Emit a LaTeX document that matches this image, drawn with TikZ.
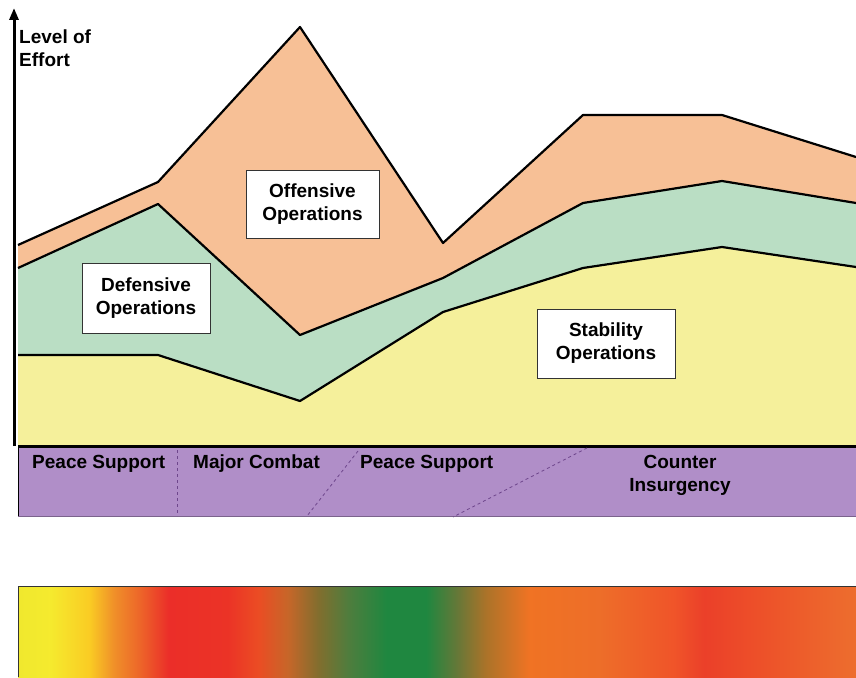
\documentclass[tikz,border=0pt]{standalone}
\usepackage{fontspec}
\setmainfont{Liberation Sans}
\usetikzlibrary{arrows.meta}
\definecolor{offc}{RGB}{247,192,150}
\definecolor{defc}{RGB}{186,222,196}
\definecolor{stac}{RGB}{245,240,155}
\definecolor{purc}{RGB}{176,142,200}
\definecolor{dashc}{RGB}{110,70,140}
\pgfdeclarehorizontalshading{effortbar}{100bp}{
 rgb(0bp)=(0.94,0.91,0.18);
 rgb(25bp)=(0.94,0.91,0.18);
 rgb(26.9bp)=(0.96,0.92,0.18);
 rgb(29.25bp)=(0.98,0.80,0.14);
 rgb(30.75bp)=(0.94,0.56,0.16);
 rgb(32.25bp)=(0.93,0.40,0.16);
 rgb(34bp)=(0.92,0.18,0.16);
 rgb(37.5bp)=(0.92,0.20,0.15);
 rgb(39.35bp)=(0.92,0.30,0.14);
 rgb(41.1bp)=(0.78,0.40,0.16);
 rgb(42.9bp)=(0.51,0.43,0.18);
 rgb(44.7bp)=(0.31,0.49,0.24);
 rgb(47bp)=(0.12,0.53,0.25);
 rgb(49.35bp)=(0.12,0.53,0.25);
 rgb(51.15bp)=(0.39,0.47,0.22);
 rgb(52.9bp)=(0.67,0.45,0.16);
 rgb(55.5bp)=(0.94,0.45,0.14);
 rgb(59.7bp)=(0.93,0.43,0.16);
 rgb(64.15bp)=(0.94,0.33,0.16);
 rgb(65.95bp)=(0.92,0.25,0.16);
 rgb(69bp)=(0.93,0.31,0.16);
 rgb(75bp)=(0.93,0.43,0.18);
 rgb(100bp)=(0.93,0.43,0.18)}
\tikzset{
 layer/.style={draw=black,line width=2.2pt,line join=round},
 label box/.style={draw=black!80,fill=white,line width=0.8pt,inner sep=0pt,align=center,font=\bfseries\fontsize{19}{23}\selectfont},
 phase/.style={font=\bfseries\fontsize{19}{23}\selectfont,inner sep=0pt,align=center},
 phase sep/.style={draw=dashc,dashed,line width=0.8pt}
}
\begin{document}
\begin{tikzpicture}[x=1pt,y=-1pt]
\useasboundingbox (0,0) rectangle (856,677);
\fill[white] (0,0) rectangle (856,677);
% layers
\fill[offc] (18,245) -- (158,182) -- (300,27) -- (443,243) -- (583,115) -- (722,115) -- (856,157)
  -- (856,203) -- (722,181) -- (583,203) -- (443,278) -- (300,335) -- (158,204) -- (18,268) -- cycle;
\fill[defc] (18,268) -- (158,204) -- (300,335) -- (443,278) -- (583,203) -- (722,181) -- (856,203)
  -- (856,267) -- (722,247) -- (583,268) -- (443,312) -- (300,401) -- (158,355) -- (18,355) -- cycle;
\fill[stac] (18,355) -- (158,355) -- (300,401) -- (443,312) -- (583,268) -- (722,247) -- (856,267)
  -- (856,446) -- (18,446) -- cycle;
\draw[layer] (18,245) -- (158,182) -- (300,27) -- (443,243) -- (583,115) -- (722,115) -- (856,157);
\draw[layer] (18,268) -- (158,204) -- (300,335) -- (443,278) -- (583,203) -- (722,181) -- (856,203);
\draw[layer] (18,355) -- (158,355) -- (300,401) -- (443,312) -- (583,268) -- (722,247) -- (856,267);
% phase band
\fill[purc] (18,448) rectangle (856,516);
\draw[black,line width=3pt] (18,446.5) -- (856,446.5);
\draw[black,line width=1pt] (18.5,448) -- (18.5,516);
\draw[purc!70!black,line width=0.6pt] (18,516) -- (856,516);
\coordinate (s1a) at (177,450); \coordinate (s1b) at (177,516);
\coordinate (s2a) at (358,451); \coordinate (s2b) at (307,516);
\coordinate (s3a) at (587,448); \coordinate (s3b) at (453,517);
\draw[phase sep] (s1a) -- (s1b);
\draw[phase sep] (s2a) -- (s2b);
\draw[phase sep] (s3a) -- (s3b);
\node[phase,anchor=north west] (p1) at (32,455) {Peace Support};
\node[phase,anchor=north west] (p2) at (193,455) {Major Combat};
\node[phase,anchor=north west] (p3) at (360,455) {Peace Support};
\node[phase,anchor=north] (p4) at (680,455) {Counter\\Insurgency};
% axis
\coordinate (ax0) at (14,446);
\coordinate (ax1) at (14,8);
\draw[line width=3pt,-{Triangle[length=12pt,width=9pt]}] (ax0) -- (ax1);
\node[phase,anchor=north west,align=left] (loe) at (19,30) {Level of\\Effort};
% boxes
\node[label box,minimum width=133pt,minimum height=68pt] (off) at (312.5,204) {Offensive\\Operations};
\node[label box,minimum width=128pt,minimum height=70pt] (def) at (146,298) {Defensive\\Operations};
\node[label box,minimum width=138pt,minimum height=69pt] (sta) at (606,343.5) {Stability\\Operations};
% gradient bar
\shade[shading=effortbar] (18,586) rectangle (856,677);
\draw[black!80,line width=1pt] (18,677) -- (18,586) -- (856,586);
\end{tikzpicture}
\end{document}
